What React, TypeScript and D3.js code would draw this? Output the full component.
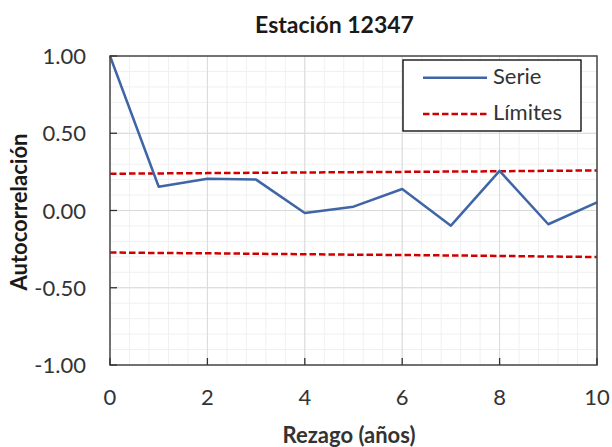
import React from "react";
import * as d3 from "d3";

const lags = [0, 1, 2, 3, 4, 5, 6, 7, 8, 9, 10];
const serie = [1.0, 0.154, 0.206, 0.2, -0.016, 0.025, 0.139, -0.098, 0.256, -0.089, 0.053];
const upperLimit = [0.238, 0.24, 0.242, 0.244, 0.246, 0.248, 0.25, 0.252, 0.254, 0.257, 0.259];
const lowerLimit = [-0.272, -0.275, -0.277, -0.28, -0.283, -0.286, -0.288, -0.291, -0.294, -0.298, -0.301];
const xTicks = [0, 2, 4, 6, 8, 10];
const yTicks = [-1, -0.5, 0, 0.5, 1];
const title = "Estación 12347";
const xTitle = "Rezago (años)";
const yTitle = "Autocorrelación";
const legendLabels = ["Serie", "Límites"];

const W = 612;
const H = 447;
const L = 110, R = 597, T = 56, B = 365;
const FONT = "Lato, 'Open Sans', sans-serif";
const BLUE = "#3f65a6";
const RED = "#d00000";

export default function App() {
  const x = d3.scaleLinear().domain([0, 10]).range([L, R]);
  const y = d3.scaleLinear().domain([-1, 1]).range([B, T]);
  const xMinor = d3.range(0, 10.0001, 0.4);
  const yMinor = d3.range(-1, 1.0001, 0.1);
  const line = d3.line<number>().x((_, i) => x(lags[i])).y((d) => y(d));

  return (
    <svg width={W} height={H} style={{ position: "absolute", left: 0, top: 0, background: "#fff" }} fontFamily={FONT}>
      {/* minor grid */}
      {xMinor.map((v, i) => (
        <line key={"xm" + i} x1={x(v)} x2={x(v)} y1={T} y2={B} stroke="#f0f0f0" strokeWidth={1} />
      ))}
      {yMinor.map((v, i) => (
        <line key={"ym" + i} x1={L} x2={R} y1={y(v)} y2={y(v)} stroke="#f0f0f0" strokeWidth={1} />
      ))}
      {/* major grid */}
      {xTicks.map((v) => (
        <line key={"xg" + v} x1={x(v)} x2={x(v)} y1={T} y2={B} stroke="#d9d9d9" strokeWidth={1} />
      ))}
      {yTicks.map((v) => (
        <line key={"yg" + v} x1={L} x2={R} y1={y(v)} y2={y(v)} stroke="#d9d9d9" strokeWidth={1} />
      ))}
      {/* limits */}
      <path d={line(upperLimit) || ""} fill="none" stroke={RED} strokeWidth={2.5} strokeDasharray="6.5,3" />
      <path d={line(lowerLimit) || ""} fill="none" stroke={RED} strokeWidth={2.5} strokeDasharray="6.5,3" />
      {/* series */}
      <path d={line(serie) || ""} fill="none" stroke={BLUE} strokeWidth={2.5} strokeLinejoin="round" />
      {/* frame */}
      <rect x={L} y={T} width={R - L} height={B - T} fill="none" stroke="#4a4a4a" strokeWidth={1.5} />
      {/* ticks */}
      {xTicks.map((v) => (
        <line key={"xt" + v} x1={x(v)} x2={x(v)} y1={B} y2={B - 7} stroke="#333" strokeWidth={1.3} />
      ))}
      {yTicks.map((v) => (
        <line key={"yt" + v} x1={L} x2={L + 7} y1={y(v)} y2={y(v)} stroke="#333" strokeWidth={1.3} />
      ))}
      {/* tick labels */}
      {xTicks.map((v) => (
        <text key={"xl" + v} x={x(v)} y={405} textAnchor="middle" fontSize={22} fill="#333">
          {v}
        </text>
      ))}
      {yTicks.map((v) => (
        <text key={"yl" + v} x={86} y={y(v) + 8} textAnchor="end" fontSize={22} fill="#333">
          {v.toFixed(2)}
        </text>
      ))}
      {/* titles */}
      <text x={334.5} y={33} textAnchor="middle" fontSize={23} fontWeight="bold" fill="#1a1a1a">
        {title}
      </text>
      <text x={349} y={443} textAnchor="middle" fontSize={22} fontWeight="bold" fill="#333">
        {xTitle}
      </text>
      <text transform={`translate(27,212) rotate(-90)`} textAnchor="middle" fontSize={22} fontWeight="bold" fill="#1a1a1a">
        {yTitle}
      </text>
      {/* legend */}
      <rect x={403} y={60} width={178} height={71} fill="#fff" stroke="#000" strokeWidth={1.3} />
      <line x1={423} x2={487} y1={77.7} y2={77.7} stroke={BLUE} strokeWidth={2.5} />
      <line x1={423} x2={487} y1={114} y2={114} stroke={RED} strokeWidth={2.5} strokeDasharray="6.5,3" />
      <text x={493} y={83.5} fontSize={22} fill="#333">{legendLabels[0]}</text>
      <text x={493} y={119.5} fontSize={22} fill="#333">{legendLabels[1]}</text>
    </svg>
  );
}
